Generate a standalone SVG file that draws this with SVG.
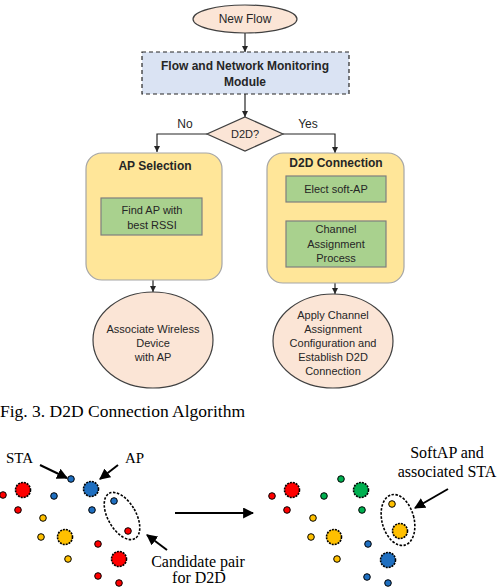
<svg xmlns="http://www.w3.org/2000/svg" width="497" height="587" viewBox="0 0 497 587">
<defs>
<marker id="ah" viewBox="0 0 10 10" refX="10" refY="5" markerWidth="6" markerHeight="6" markerUnits="userSpaceOnUse" orient="auto"><path d="M0,0 L10,5 L0,10 z" fill="#262626"/></marker>
<marker id="ahb" viewBox="0 0 10 10" refX="9" refY="5" markerWidth="11" markerHeight="11" markerUnits="userSpaceOnUse" orient="auto"><path d="M0,0 L10,5 L0,10 z" fill="#000"/></marker>
<style>
.t{font-family:"Liberation Sans",Arial,sans-serif;font-size:11px;fill:#262626;text-anchor:middle}
.b{font-weight:bold}
.h{font-size:12px}
.s{font-family:"Liberation Serif","Times New Roman",serif;font-size:16px;fill:#000}
.pe{fill:#fbe5d6;stroke:#404040;stroke-width:1.2}
.yb{fill:#ffe699;stroke:#a6a6a6;stroke-width:1.2}
.gb{fill:#a9d18e;stroke:#7f7f7f;stroke-width:1.2}
.c{fill:none;stroke:#262626;stroke-width:1.2}
.ca{fill:none;stroke:#000;stroke-width:2}
.d{stroke:#000;stroke-width:1}
.D{stroke:#000;stroke-width:1.6;stroke-dasharray:2 1}
.r{fill:#ff0000}.bl{fill:#1f6fc0}.y{fill:#ffc000}.g{fill:#00b050}
.de{fill:none;stroke:#000;stroke-width:1.6;stroke-dasharray:2.5 1.5}
</style>
</defs>
<rect width="497" height="587" fill="#fff"/>
<g id="connectors">
<line class="c" x1="245" y1="33" x2="245" y2="52" marker-end="url(#ah)"/>
<line class="c" x1="245" y1="94" x2="245" y2="117" marker-end="url(#ah)"/>
<polyline class="c" points="207,134 157,134 157,152" marker-end="url(#ah)"/>
<polyline class="c" points="283,134 335,134 335,153" marker-end="url(#ah)"/>
<line class="c" x1="337" y1="202" x2="337" y2="221" stroke-dasharray="2 2" style="stroke:#7f6000" marker-end="url(#ah)"/>
<line class="c" x1="153" y1="280" x2="153" y2="292" marker-end="url(#ah)"/>
<line class="c" x1="335" y1="283" x2="335" y2="294" marker-end="url(#ah)"/>
<text class="t h" x="185" y="128">No</text>
<text class="t h" x="308" y="128">Yes</text>
</g>
<g id="new-flow"><ellipse class="pe" cx="245" cy="19" rx="52" ry="14"/><text class="t h" x="245" y="23">New Flow</text></g>
<g id="monitoring"><rect x="142" y="52" width="207" height="42" fill="#dae3f3" stroke="#262626" stroke-width="1.2" stroke-dasharray="4 3"/>
<text class="t b h" x="245" y="70">Flow and Network Monitoring</text><text class="t b h" x="245" y="86">Module</text></g>
<g id="d2d-decision"><polygon class="pe" points="245,117 283,134 245,151 207,134"/><text class="t" x="245" y="138">D2D?</text></g>
<g id="ap-selection"><rect class="yb" x="86" y="153" width="136" height="127" rx="16"/>
<text class="t b h" x="155" y="170">AP Selection</text>
<rect class="gb" x="101" y="198" width="101" height="37"/>
<text class="t" x="152" y="214">Find  AP with</text><text class="t" x="152" y="229">best RSSI</text></g>
<g id="d2d-connection"><rect class="yb" x="267" y="153" width="137" height="130" rx="16"/>
<text class="t b h" x="336" y="167">D2D Connection</text>
<rect class="gb" x="286" y="176" width="100" height="26"/><text class="t" x="336" y="193">Elect soft-AP</text>
<rect class="gb" x="286" y="221" width="100" height="46"/>
<text class="t" x="336" y="233">Channel</text><text class="t" x="336" y="248">Assignment</text><text class="t" x="336" y="262">Process</text></g>
<g id="associate"><ellipse class="pe" cx="153" cy="340" rx="60" ry="48"/>
<text class="t" x="153" y="333">Associate Wireless</text><text class="t" x="153" y="347">Device</text><text class="t" x="153" y="361">with AP</text></g>
<g id="apply"><ellipse class="pe" cx="333" cy="341" rx="60" ry="47"/>
<text class="t" x="333" y="319">Apply Channel</text><text class="t" x="333" y="333">Assignment</text><text class="t" x="333" y="347">Configuration and</text><text class="t" x="333" y="361">Establish D2D</text><text class="t" x="333" y="375">Connection</text></g>
<text class="s" x="0" y="417" style="font-size:17.5px">Fig. 3. D2D Connection Algorithm</text>
<g id="before">
<circle class="r d" cx="3" cy="495" r="3.3"/>
<circle class="r D" cx="23" cy="490" r="7.5"/>
<circle class="bl d" cx="71" cy="479" r="3.3"/>
<circle class="bl d" cx="54" cy="496" r="3.3"/>
<circle class="bl D" cx="91" cy="489" r="7.5"/>
<circle class="r d" cx="18" cy="510" r="3.3"/>
<circle class="y d" cx="43" cy="518" r="3.3"/>
<circle class="bl d" cx="92" cy="510" r="3.3"/>
<circle class="bl d" cx="114" cy="501" r="3.3"/>
<circle class="r d" cx="128" cy="531" r="3.3"/>
<ellipse class="de" cx="122" cy="516" rx="14" ry="26" transform="rotate(-30 122 516)"/>
<circle class="y d" cx="41" cy="537" r="3.3"/>
<circle class="y D" cx="65" cy="537" r="7.5"/>
<circle class="r d" cx="98" cy="544" r="3.3"/>
<circle class="y d" cx="68" cy="559" r="3.3"/>
<circle class="r D" cx="119" cy="559" r="7.5"/>
<circle class="r d" cx="98" cy="576" r="3.3"/>
<circle class="r d" cx="119" cy="583" r="3.3"/>
<text class="s" x="6" y="463" style="font-size:15px">STA</text>
<text class="s" x="125" y="463" style="font-size:15px">AP</text>
<line class="ca" x1="40" y1="465" x2="67" y2="478" marker-end="url(#ahb)"/>
<line class="ca" x1="118" y1="465" x2="100" y2="479" marker-end="url(#ahb)"/>
<line class="ca" x1="167" y1="550" x2="147" y2="535" marker-end="url(#ahb)"/>
<text class="s" x="198" y="567" text-anchor="middle">Candidate pair</text>
<text class="s" x="199" y="583" text-anchor="middle">for D2D</text>
</g>
<line id="transition" class="ca" x1="175" y1="513" x2="253" y2="513" marker-end="url(#ahb)"/>
<g id="after">
<circle class="r d" cx="272" cy="496" r="3.3"/>
<circle class="r D" cx="292" cy="490" r="7.5"/>
<circle class="g d" cx="341" cy="479" r="3.3"/>
<circle class="g d" cx="324" cy="496" r="3.3"/>
<circle class="g D" cx="361" cy="490" r="7.5"/>
<circle class="r d" cx="287" cy="510" r="3.3"/>
<circle class="y d" cx="313" cy="518" r="3.3"/>
<circle class="g d" cx="362" cy="510" r="3.3"/>
<circle class="y d" cx="392" cy="504" r="3.3"/>
<circle class="y D" cx="400" cy="531" r="7.5"/>
<ellipse class="de" cx="398" cy="520" rx="16" ry="26" transform="rotate(-15 398 520)"/>
<circle class="y d" cx="311" cy="537" r="3.3"/>
<circle class="y D" cx="334" cy="537" r="7.5"/>
<circle class="bl d" cx="368" cy="544" r="3.3"/>
<circle class="y d" cx="337" cy="559" r="3.3"/>
<circle class="bl D" cx="388" cy="560" r="7.5"/>
<circle class="bl d" cx="367" cy="577" r="3.3"/>
<circle class="bl d" cx="388" cy="583" r="3.3"/>
<text class="s" x="447" y="458" text-anchor="middle">SoftAP and</text>
<text class="s" x="447" y="477" text-anchor="middle">associated STA</text>
<line class="ca" x1="448" y1="489" x2="415" y2="508" marker-end="url(#ahb)"/>
</g>
</svg>
